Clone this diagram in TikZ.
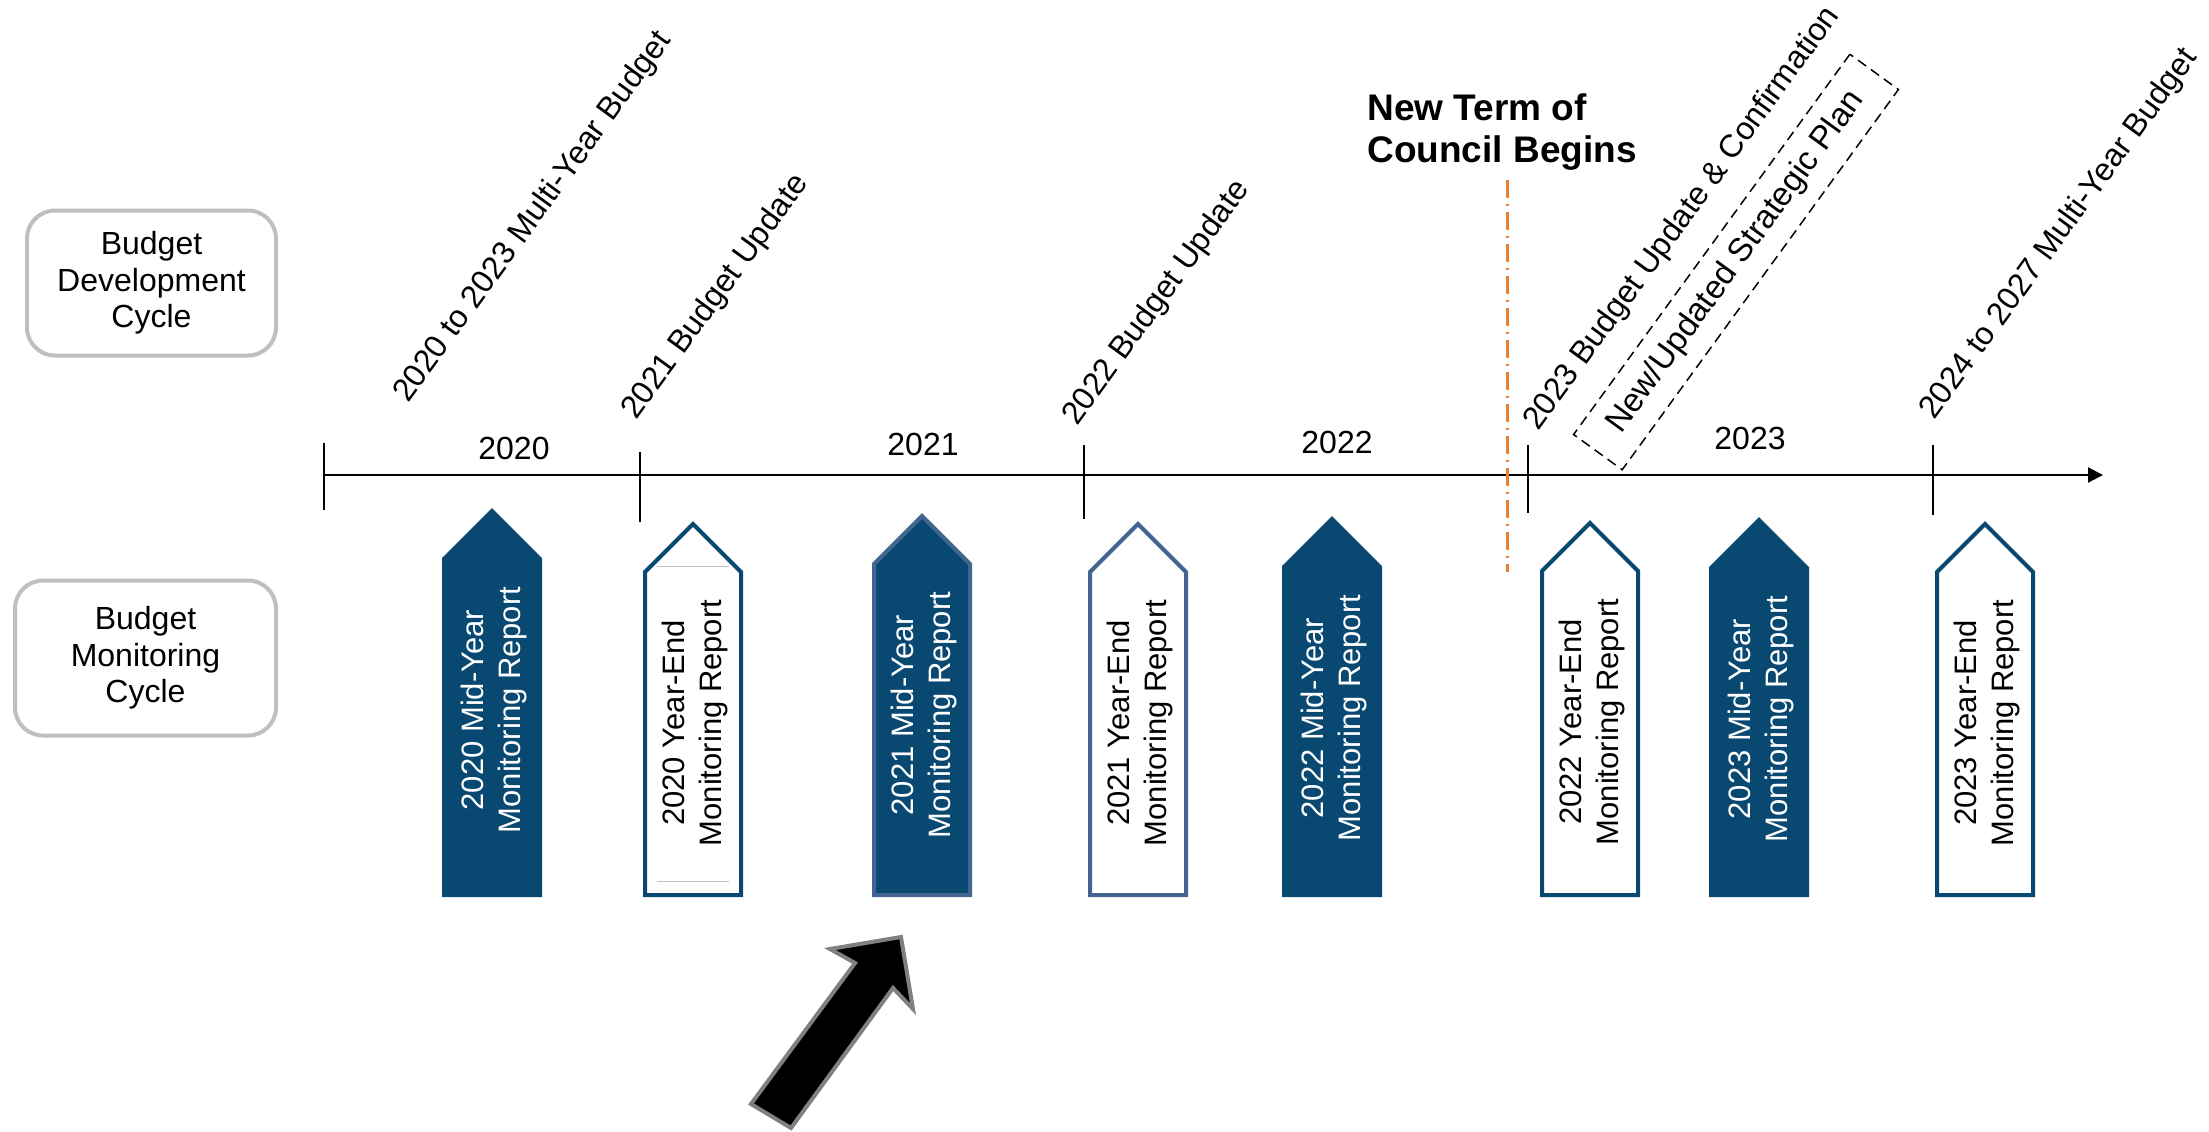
\documentclass[tikz,border=0pt]{standalone}
\usepackage{fontspec}
\setmainfont{Liberation Sans}
\usetikzlibrary{arrows.meta}
\definecolor{navy}{RGB}{9,73,113}
\definecolor{steel}{RGB}{65,100,145}
\definecolor{boxgray}{RGB}{191,191,191}
\definecolor{termorange}{RGB}{237,125,49}

\begin{document}
\begin{tikzpicture}[x=0.5pt,y=-0.5pt,
 cycbox/.style={draw=boxgray, line width=2pt, rounded corners=14pt, align=center, inner sep=0, font=\fontsize{16}{18.3}\selectfont},
 yrlab/.style={inner sep=0, font=\fontsize{16}{19}\selectfont},
 slant/.style={rotate=54, anchor=base west, inner sep=0, font=\fontsize{16}{19}\selectfont},
 yeartick/.style={line width=1pt},
 full/.style={fill=navy, draw=navy, line width=2pt},
 fullsteel/.style={fill=navy, draw=steel, line width=2pt},
 hollow/.style={fill=white, draw=navy, line width=2pt},
 hollowsteel/.style={fill=white, draw=steel, line width=2pt},
 reptext/.style={rotate=90, align=center, inner sep=0, font=\fontsize{15.5}{18.5}\selectfont}]
\useasboundingbox (0,0) rectangle (2209,1131);
\node[cycbox, minimum width=124.5pt, minimum height=72.5pt] (devcycle) at (151.5,283) {Budget\\Development\\Cycle};
\node[cycbox, minimum width=130.5pt, minimum height=77.5pt] (moncycle) at (145.5,658) {Budget\\Monitoring\\Cycle};
\coordinate (t0) at (324,475);
\coordinate (tend) at (2103,475);
\draw[line width=1pt, -{Triangle[length=7.5pt,width=7.5pt]}] (t0)--(tend);
\foreach \x/\ya/\yb in {324/443/510, 640/452/522, 1084/445/519, 1528/445/513, 1933/445/515} {
 \draw[yeartick] (\x,\ya) -- (\x,\yb);
}
\foreach \x/\y/\t in {514/448/2020, 923/444/2021, 1337/442/2022, 1750/438/2023} {
 \node[yrlab] (yr\t) at (\x,\y) {\t};
}
\node[slant] (myb1) at (408,404) {2020 to 2023 Multi-Year Budget};
\node[slant] (upd21) at (636,421) {2021 Budget Update};
\node[slant] (upd22) at (1077,427) {2022 Budget Update};
\node[slant] (upd23) at (1538,432) {2023 Budget Update \& Confirmation};
\node[slant] (myb2) at (1934,421) {2024 to 2027 Multi-Year Budget};
\node[draw, line width=0.75pt, dash pattern=on 5pt off 3pt, rotate=54, minimum width=235pt, minimum height=30pt, inner sep=0, font=\fontsize{16.5}{19}\selectfont] (plan) at (1736,262) {New/Updated Strategic Plan};
\node[align=left, anchor=north west, inner sep=0, font=\bfseries\fontsize{18.5}{21}\selectfont] (term) at (1367,93) {New Term of\\Council Begins};
\coordinate (otop) at (1507,180);
\coordinate (obot) at (1507,572);
\draw[termorange, line width=1.5pt, dash pattern=on 9pt off 3pt on 1pt off 3pt] (otop)--(obot);
\foreach \cx/\tip/\sty/\tc/\yr/\kind [count=\i] in {492/509/full/white/2020/Mid-Year, 693/522/hollow/black/2020/Year-End, 922/514/fullsteel/white/2021/Mid-Year, 1138/522/hollowsteel/black/2021/Year-End, 1332/517/full/white/2022/Mid-Year, 1590/521/hollow/black/2022/Year-End, 1759/518/full/white/2023/Mid-Year, 1985/522/hollow/black/2023/Year-End} {
 \draw[\sty] (\cx-48,895) -- (\cx-48,\tip+50) -- (\cx,\tip+2) -- (\cx+48,\tip+50) -- (\cx+48,895) -- cycle;
 \node[reptext, text=\tc] (rep\i) at (\cx+2,\tip+201) {\yr{} \kind\\Monitoring Report};
}
\draw[boxgray, line width=0.5pt] (657,566) -- (729,566) (657,881) -- (729,881);
\draw[fill=black, draw=gray, line width=2pt] (751,1104) -- (855,963) -- (830,949) -- (901,937) -- (913,1009) -- (893,988) -- (791,1128) -- cycle;
\end{tikzpicture}
\end{document}
